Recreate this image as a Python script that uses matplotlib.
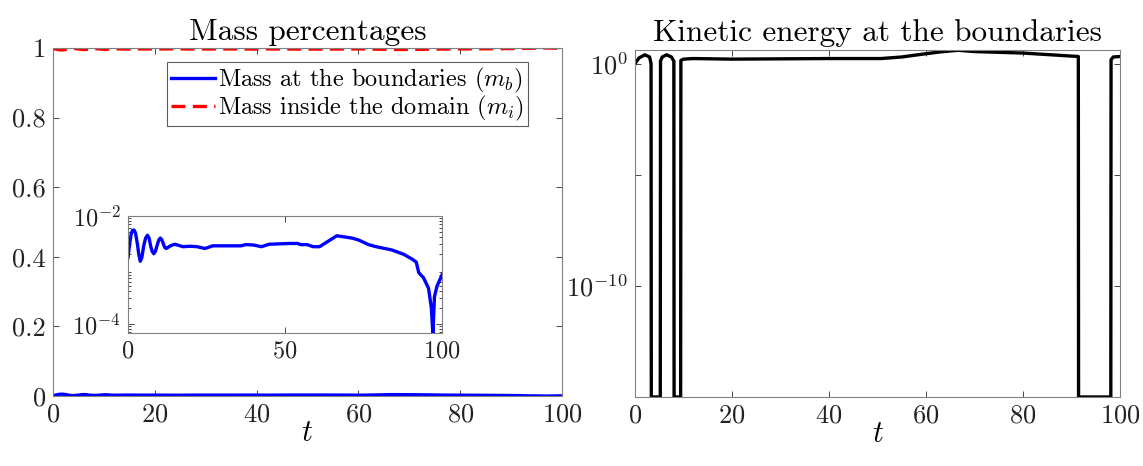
import numpy as np
import matplotlib
matplotlib.use("Agg")
import matplotlib.pyplot as plt

plt.rcParams['font.family'] = 'serif'
plt.rcParams['font.serif'] = ['cmr10']
plt.rcParams['mathtext.fontset'] = 'cm'
plt.rcParams['axes.formatter.use_mathtext'] = True
plt.rcParams['axes.unicode_minus'] = False

# mass at the boundaries (fraction)
t_mass = [0, 0.5, 1, 1.4, 1.9, 2.4, 3, 3.4, 3.9, 4.4, 5, 5.6, 6.2, 6.7, 7.2, 7.7, 8.2,
          8.7, 9.3, 9.8, 10.3, 10.8, 11.3, 11.7, 12.2, 13.5, 14.9,
          17.5, 19.7, 22, 24.5, 27, 32, 36, 37.5, 40, 42.5, 45, 51.6, 54, 55, 57,
          59, 61, 63, 66.5, 71.3, 73.4, 76.6, 79, 84, 87.8, 90.4, 91.8, 92.6, 94.1,
          95.7, 96.6, 97.1, 97.6, 98.4, 100]
m_b = [1.7e-3, 3.0e-3, 4.6e-3, 5.4e-3, 5.5e-3, 4.8e-3, 3.0e-3, 2.0e-3, 1.45e-3, 1.7e-3,
       2.8e-3, 3.9e-3, 4.4e-3, 3.9e-3, 2.8e-3, 2.2e-3, 2.0e-3,
       2.2e-3, 2.9e-3, 3.6e-3, 3.9e-3, 3.6e-3, 3.0e-3, 2.6e-3, 2.5e-3, 2.8e-3, 3.0e-3,
       2.7e-3, 2.75e-3, 2.7e-3, 2.5e-3, 2.8e-3,
       2.8e-3, 2.8e-3, 2.95e-3, 2.9e-3, 2.7e-3, 3.0e-3, 3.1e-3, 3.1e-3, 2.95e-3, 2.95e-3,
       2.7e-3, 2.7e-3, 3.2e-3, 4.3e-3, 3.9e-3, 3.6e-3, 2.95e-3, 2.7e-3, 2.35e-3, 1.95e-3,
       1.6e-3, 1.4e-3, 8.9e-4, 7.2e-4, 4.6e-4, 2.0e-4, 6.5e-5, 3.2e-4, 5.0e-4, 8.1e-4]
m_i = [1 - v for v in m_b]

# kinetic energy at the boundaries (1e-15 = floor of the plot where it vanishes)
t_kin = [0, 0.8, 2, 3, 3.3, 3.35, 5.2, 5.25, 5.6, 6.5, 7.5, 8, 8.05, 9.4, 9.45, 10, 12,
         20, 30, 40, 50.7, 55, 59.4, 63, 66.6, 70, 80, 91.4, 91.45, 98.1, 98.15, 98.6, 100]
e_kin = [1.0, 1.8, 2.5, 2.0, 1.0, 1e-15, 1e-15, 1.3, 2.0, 2.5, 2.0, 1.3, 1e-15, 1e-15,
         1.4, 1.6, 1.7, 1.6, 1.65, 1.7, 1.7, 2.0, 2.7, 3.4, 4.0, 3.5, 3.0, 2.1, 1e-15, 1e-15,
         1.5, 2.0, 2.1]

def style(ax):
    ax.tick_params(direction='in', top=True, right=True, colors='#262626',
                   labelcolor='#222222', length=4, width=0.6, pad=5)
    for s in ax.spines.values():
        s.set_color('#808080')
        s.set_linewidth(0.8)

fig = plt.figure(figsize=(11.43, 4.66), dpi=100)

# left: mass percentages
ax1 = fig.add_axes([0.0463, 0.150, 0.4454, 0.747])
ax1.plot(t_mass, m_b, color='blue', lw=2.4, label='Mass at the boundaries ($m_b$)')
ax1.plot(t_mass, m_i, color='red', lw=2.4, ls=(0, (4.2, 2.2)), label='Mass inside the domain ($m_i$)')
ax1.set_xlim(0, 100)
ax1.set_ylim(0, 1)
ax1.set_xticks([0, 20, 40, 60, 80, 100])
ax1.set_yticks([0, 0.2, 0.4, 0.6, 0.8, 1])
ax1.set_yticklabels(['0', '0.2', '0.4', '0.6', '0.8', '1'])
style(ax1)
ax1.tick_params(labelsize=19)
ax1.set_title('Mass percentages', fontsize=22.5, pad=6)
ax1.set_xlabel('$t$', fontsize=22, labelpad=-5)
leg = ax1.legend(loc='upper right', fontsize=17.5, frameon=True, fancybox=False,
                 borderpad=0.15, handlelength=1.8, handletextpad=0.15,
                 borderaxespad=0.0, labelspacing=-0.05, bbox_to_anchor=(0.933, 0.96))
leg.get_frame().set_edgecolor('#333333')
leg.get_frame().set_linewidth(0.8)

# inset on log scale
ins = fig.add_axes([0.112, 0.2854, 0.2747, 0.2511])
ins.plot(t_mass, m_b, color='blue', lw=2.4)
ins.set_yscale('log')
ins.set_xlim(0, 100)
ins.set_ylim(6.8e-5, 1e-2)
ins.set_xticks([0, 50, 100])
ins.set_yticks([1e-4, 1e-2])
ins.set_yticklabels(['$10^{-4}$', '$10^{-2}$'])
style(ins)
ins.tick_params(labelsize=17.5)
ins.tick_params(which='minor', direction='in', right=True, left=True, length=2, width=0.5)

# right: kinetic energy
ax2 = fig.add_axes([0.5556, 0.1481, 0.4243, 0.745])
ax2.plot(t_kin, e_kin, color='black', lw=2.4)
ax2.set_yscale('log')
ax2.set_xlim(0, 100)
ax2.set_ylim(1e-15, 4.2)
ax2.set_xticks([0, 20, 40, 60, 80, 100])
ax2.set_yticks([1e-10, 1e-5, 1])
ax2.set_yticklabels(['$10^{-10}$', '', '$10^{0}$'])
ax2.yaxis.set_minor_locator(matplotlib.ticker.NullLocator())
style(ax2)
ax2.tick_params(labelsize=19)
ax2.set_title('Kinetic energy at the boundaries', fontsize=22.5, pad=6)
ax2.set_xlabel('$t$', fontsize=22, labelpad=-5)

fig.savefig('out.png', dpi=100)
